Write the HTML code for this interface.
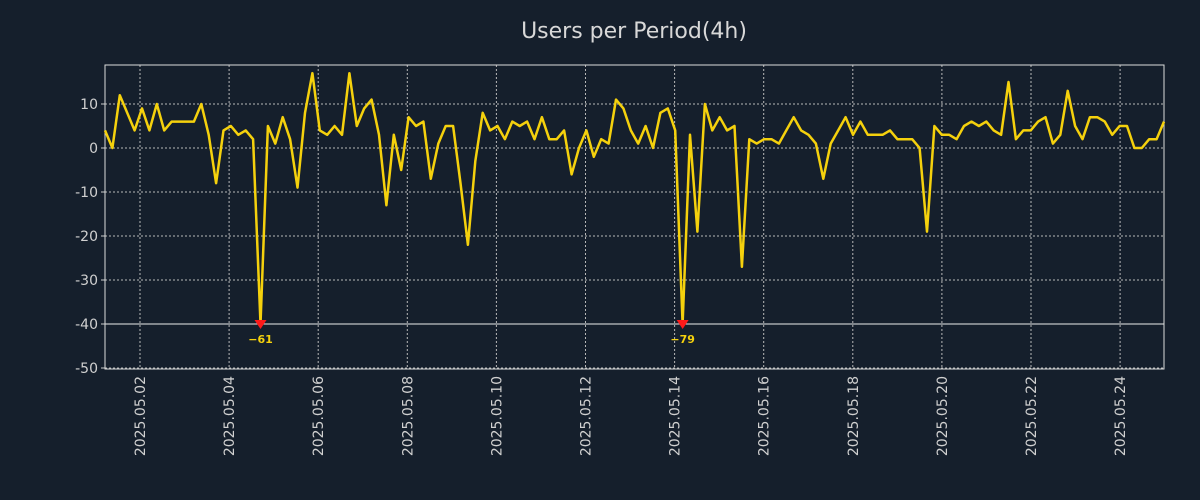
<!DOCTYPE html>
<html><head><meta charset="utf-8"><style>
body{margin:0;background:#151f2c;}
svg{display:block;font-family:"DejaVu Sans","Liberation Sans",sans-serif;}
</style></head><body>
<svg id="chart" width="1200" height="500">
<rect width="1200" height="500" fill="#151f2c"/>
<text x="634" y="38" text-anchor="middle" font-size="22" fill="#d8d8d8">Users per Period(4h)</text>
<g id="grid"></g><g id="axes"></g><g id="series"></g><g id="marks"></g>
</svg>
<script>
const values=[4,0,12,8,4,9,4,10,4,6,6,6,6,10,3,-8,4,5,3,4,2,-61,5,1,7,2,-9,8,17,4,3,5,3,17,5,9,11,3,-13,3,-5,7,5,6,-7,1,5,5,-8,-22,-3,8,4,5,2,6,5,6,2,7,2,2,4,-6,0,4,-2,2,1,11,9,4,1,5,0,8,9,4,-79,3,-19,10,4,7,4,5,-27,2,1,2,2,1,4,7,4,3,1,-7,1,4,7,3,6,3,3,3,4,2,2,2,0,-19,5,3,3,2,5,6,5,6,4,3,15,2,4,4,6,7,1,3,13,5,2,7,7,6,3,5,5,0,0,2,2,6];
const yTicks=[10,0,-10,-20,-30,-40,-50];
const xTickLabels=["2025.05.02","2025.05.04","2025.05.06","2025.05.08","2025.05.10","2025.05.12","2025.05.14","2025.05.16","2025.05.18","2025.05.20","2025.05.22","2025.05.24"];
const floorValue=-40;
const L=105,R=1164,T=65,B=369;
const yScale=v=>148-v*4.4;
const xScale=i=>L+i*(R-L)/(values.length-1);
const dayX=k=>140+k*2*44.55;
const NS="http://www.w3.org/2000/svg";
function mk(tag,attrs,parent){const e=document.createElementNS(NS,tag);for(const k in attrs)e.setAttribute(k,attrs[k]);parent.appendChild(e);return e;}
const grid=document.getElementById('grid'),axes=document.getElementById('axes'),series=document.getElementById('series'),marks=document.getElementById('marks');
yTicks.forEach(v=>{
  const y=yScale(v);
  const g=mk('line',{x1:L,x2:R,y1:y,y2:y,stroke:v===floorValue?'#ececec':'#b8b8b8','stroke-width':1,'stroke-dasharray':v===floorValue?'none':'2,2'},grid);
  
  
  const t=mk('text',{x:98,y:y+5,'text-anchor':'end','font-size':14,fill:'#d0d0d0'},axes);
  t.textContent=v;
  
  
  const tk=mk('line',{x1:L-4,x2:L,y1:y,y2:y,stroke:'#ccc'},axes);
  
  
});
xTickLabels.forEach((lab,k)=>{
  const x=dayX(k);
  const g=mk('line',{x1:x,x2:x,y1:T,y2:B,stroke:'#b8b8b8','stroke-dasharray':'2,2'},grid);
  
  
  const t=mk('text',{x:0,y:0,'text-anchor':'end','font-size':14,fill:'#d0d0d0',transform:`translate(${x+5},376) rotate(-90)`},axes);
  t.textContent=lab;
  
  
});
const frame=mk('rect',{x:L,y:T,width:R-L,height:B-T,fill:'none',stroke:'#dcdcdc','stroke-width':1},axes);


const pts=values.map((v,i)=>xScale(i).toFixed(1)+','+yScale(Math.max(v,floorValue)).toFixed(1)).join(' ');
const line=mk('polyline',{points:pts,fill:'none',stroke:'#f5d10d','stroke-width':2.5,'stroke-linejoin':'round'},series);


values.forEach((v,i)=>{
  if(v<floorValue){
    const x=xScale(i),y=yScale(floorValue);
    const m=mk('path',{d:`M${x-6},${y-4}L${x+6},${y-4}L${x},${y+5}Z`,fill:'#ff1a1a'},marks);
    
    
    const t=mk('text',{x:x,y:y+19,'text-anchor':'middle','font-size':11,'font-weight':'bold',fill:'#f5d10d'},marks);
    t.textContent='−'+Math.abs(v);
    
    
  }
});
</script>
</body></html>
